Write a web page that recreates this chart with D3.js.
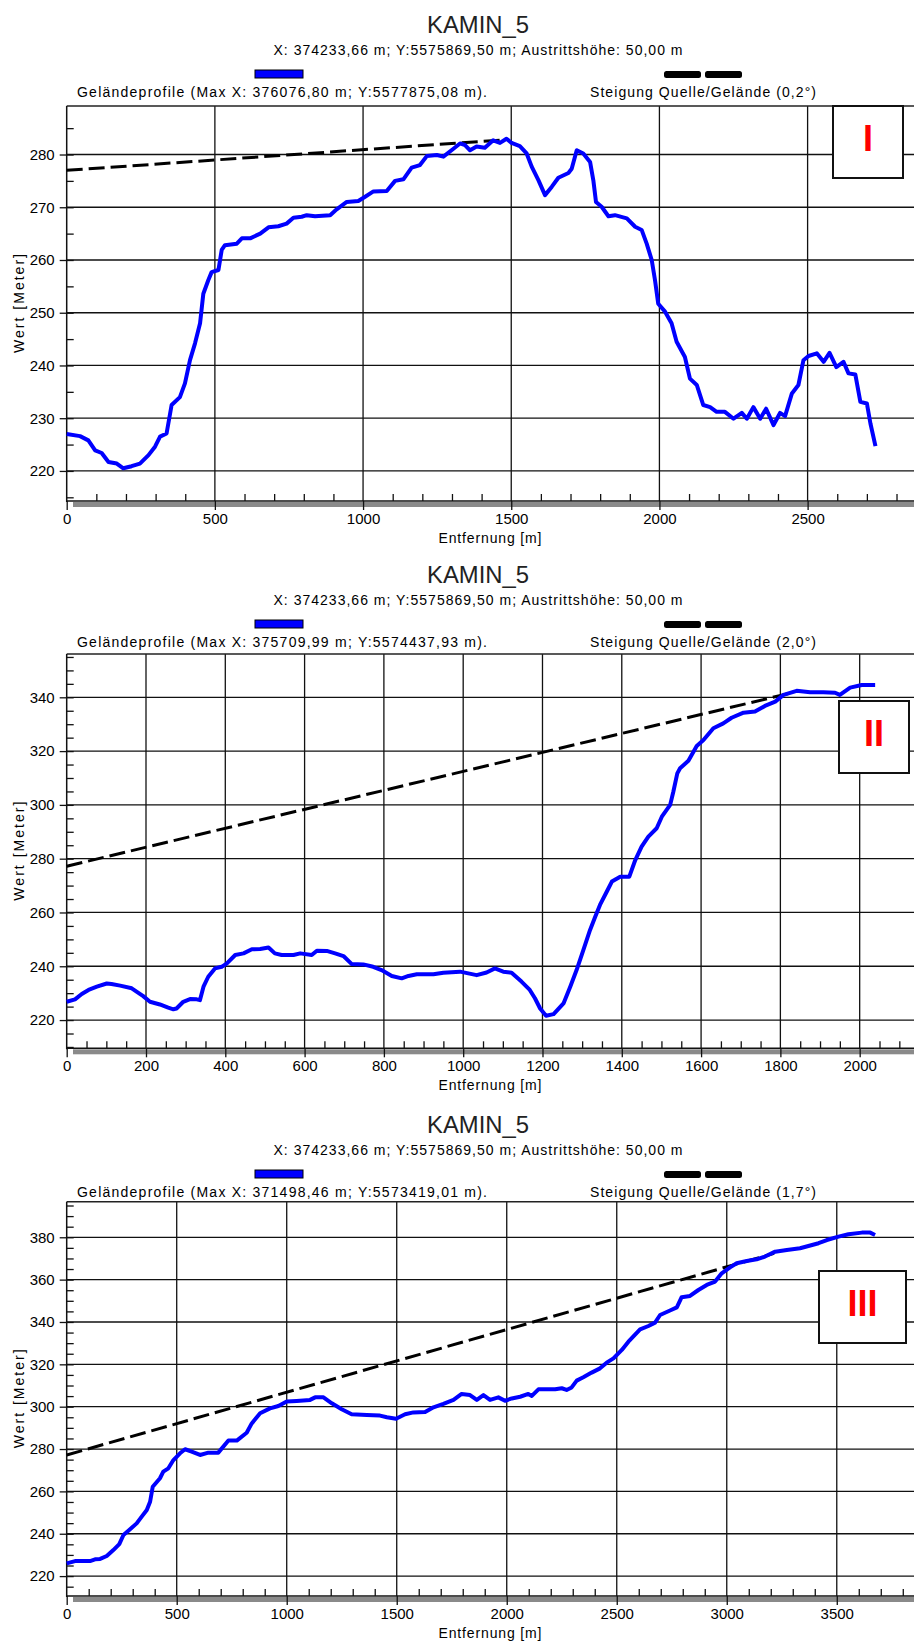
<!DOCTYPE html>
<html>
<head>
<meta charset="utf-8">
<script src="https://cdn.jsdelivr.net/npm/d3@7"></script>
<style>
  body { margin: 0; background: #fff; }
  svg text { font-family: "Liberation Sans", Arial, sans-serif; fill: #000; }
</style>
</head>
<body>
<svg id="chart" width="914" height="1641"></svg>
<script>
// ---- data: [distance m, height m] ----
let profile1 = [[0,227.0],[45,226.6],[73,225.8],[96,223.9],[118,223.4],[141,221.7],[169,221.4],[191,220.5],[219,220.9],[247,221.4],[276,223.0],[298,224.6],[315,226.5],[337,227.1],[354,232.5],[382,234.0],[399,236.6],[416,241.0],[433,244.2],[450,248.0],[461,253.6],[478,256.2],[489,257.7],[512,258.1],[523,261.9],[534,262.8],[574,263.1],[591,264.1],[619,264.1],[653,265.0],[681,266.2],[714,266.4],[742,266.9],[765,268.0],[793,268.2],[810,268.5],[838,268.3],[889,268.5],[911,269.6],[945,271.0],[984,271.2],[1007,272.0],[1035,273.0],[1080,273.1],[1108,275.0],[1136,275.3],[1164,277.5],[1192,278.0],[1215,279.7],[1249,279.9],[1271,279.6],[1305,281.1],[1327,282.1],[1344,281.8],[1361,280.8],[1383,281.5],[1411,281.3],[1439,282.7],[1462,282.2],[1484,283.0],[1501,282.2],[1529,281.6],[1552,280.2],[1569,277.7],[1592,275.1],[1614,272.3],[1637,273.9],[1659,275.6],[1693,276.5],[1704,277.3],[1721,280.8],[1743,280.2],[1766,278.6],[1777,275.1],[1786,271.0],[1805,270.1],[1828,268.3],[1850,268.5],[1890,267.9],[1918,266.3],[1940,265.7],[1957,263.1],[1974,260.0],[1985,256.2],[1996,251.7],[2019,250.2],[2041,248.0],[2058,244.5],[2086,241.6],[2103,237.5],[2126,236.3],[2148,232.5],[2171,232.1],[2193,231.2],[2221,231.2],[2250,229.9],[2278,231.0],[2295,229.9],[2317,232.1],[2340,229.9],[2360,231.8],[2385,228.7],[2407,231.0],[2424,230.4],[2447,234.7],[2469,236.3],[2486,241.0],[2503,241.8],[2531,242.3],[2554,240.7],[2574,242.4],[2597,239.7],[2621,240.7],[2638,238.5],[2661,238.3],[2678,233.1],[2700,232.8],[2712,229.0],[2729,224.7]];

let profile2 = [[0,226.8],[21,227.7],[38,229.7],[55,231.2],[76,232.4],[101,233.6],[113,233.4],[135,232.8],[164,231.8],[177,230.5],[193,228.9],[210,226.8],[235,225.8],[256,224.6],[269,224.0],[277,224.3],[294,226.8],[311,227.8],[328,227.7],[336,227.4],[345,232.4],[357,236.1],[374,239.2],[391,239.8],[404,241.1],[425,244.2],[446,244.8],[467,246.3],[488,246.4],[509,247.0],[525,244.8],[542,244.2],[572,244.2],[589,244.8],[618,244.2],[631,245.8],[656,245.7],[677,244.8],[698,243.8],[719,240.8],[748,240.7],[773,239.8],[794,238.6],[820,236.4],[845,235.5],[862,236.4],[883,237.0],[925,237.0],[950,237.6],[992,238.0],[1034,236.7],[1059,237.7],[1080,239.2],[1101,238.0],[1122,237.6],[1147,234.3],[1168,231.2],[1181,228.1],[1194,224.3],[1209,221.6],[1228,222.2],[1253,226.2],[1270,232.4],[1286,238.6],[1303,246.0],[1320,253.5],[1333,258.4],[1345,262.8],[1362,267.7],[1375,271.5],[1396,273.3],[1419,273.3],[1434,279.5],[1450,284.5],[1467,288.2],[1488,291.3],[1501,295.6],[1522,300.0],[1530,304.9],[1540,311.7],[1547,313.6],[1568,316.4],[1589,321.9],[1606,324.1],[1631,328.5],[1656,330.3],[1677,332.4],[1707,334.3],[1736,334.7],[1761,336.8],[1787,338.4],[1808,340.9],[1841,342.4],[1875,341.9],[1908,341.9],[1938,341.7],[1950,340.9],[1976,343.6],[2005,344.6],[2039,344.6]];

let profile3 = [[0,226.0],[38,227.1],[106,227.1],[129,227.9],[152,228.1],[182,229.5],[212,232.3],[239,235.1],[258,239.4],[288,242.1],[318,244.9],[341,248.1],[364,251.2],[379,255.1],[391,262.2],[424,266.2],[439,269.3],[462,270.9],[485,274.8],[515,278.0],[538,279.9],[568,278.8],[606,277.2],[644,278.3],[689,278.3],[735,284.0],[773,284.0],[818,287.7],[841,292.1],[879,296.9],[924,299.2],[962,300.3],[1000,302.4],[1045,302.7],[1106,303.2],[1129,304.4],[1167,304.4],[1205,301.6],[1250,298.8],[1295,296.4],[1364,296.1],[1424,295.8],[1455,295.0],[1497,294.3],[1538,296.4],[1576,297.3],[1629,297.5],[1667,299.7],[1712,301.3],[1758,303.2],[1795,306.0],[1833,305.5],[1864,303.2],[1894,305.5],[1924,303.2],[1962,304.4],[1992,302.8],[2023,303.9],[2061,304.7],[2098,306.0],[2114,305.1],[2144,308.2],[2220,308.2],[2250,308.7],[2272,307.9],[2295,309.1],[2318,312.3],[2348,313.9],[2386,316.1],[2424,318.1],[2454,320.8],[2485,322.8],[2523,326.8],[2553,330.7],[2606,336.5],[2644,338.1],[2674,339.7],[2697,343.3],[2742,345.4],[2773,346.9],[2795,351.7],[2833,352.3],[2871,355.1],[2909,357.5],[2947,359.1],[2977,363.0],[3015,365.8],[3045,367.7],[3091,368.8],[3136,369.6],[3174,370.9],[3220,373.2],[3273,374.0],[3333,374.8],[3371,375.9],[3417,377.2],[3455,378.7],[3508,380.3],[3553,381.4],[3614,382.2],[3652,382.2],[3674,381.1]];

// slope source/terrain (dashed), start and end point
let slope1 = [[0,277.0],[1480,282.8]];
let slope2 = [[0,277.2],[1835,341.9]];
let slope3 = [[0,277.2],[3215,372.4]];

// axes
let xDomain1 = [0, 2859], yDomain1 = [214.3, 289.2];
let xDomain2 = [0, 2137], yDomain2 = [209.5, 356.1];
let xDomain3 = [0, 3851], yDomain3 = [210.6, 396.8];

let xTicks1 = [0, 500, 1000, 1500, 2000, 2500];
let xTicks2 = [0, 200, 400, 600, 800, 1000, 1200, 1400, 1600, 1800, 2000];
let xTicks3 = [0, 500, 1000, 1500, 2000, 2500, 3000, 3500];
let yTicks1 = [220, 230, 240, 250, 260, 270, 280];
let yTicks2 = [220, 240, 260, 280, 300, 320, 340];
let yTicks3 = [220, 240, 260, 280, 300, 320, 340, 360, 380];

// texts
let chartTitle = "KAMIN_5";
let subTitle = "X: 374233,66 m; Y:5575869,50 m; Austrittshöhe: 50,00 m";
let profileNames = [
    "Geländeprofile (Max X: 376076,80 m; Y:5577875,08 m).",
    "Geländeprofile (Max X: 375709,99 m; Y:5574437,93 m).",
    "Geländeprofile (Max X: 371498,46 m; Y:5573419,01 m)."
];
let slopeNames = [
    "Steigung Quelle/Gelände (0,2°)",
    "Steigung Quelle/Gelände (2,0°)",
    "Steigung Quelle/Gelände (1,7°)"
];
let panelLabels = ["I", "II", "III"];

let svg = d3.select("#chart");
let left = 66.7, right = 914;

let panels = [
    {top: 0, plotTop: 106, plotBottom: 501, profile: profile1, slope: slope1, xDomain: xDomain1, yDomain: yDomain1,
        xTicks: xTicks1, yTicks: yTicks1, xMinor: 100, yMinor: 5, box: [833, 106, 70]},
    {top: 550, plotTop: 654, plotBottom: 1048.3, profile: profile2, slope: slope2, xDomain: xDomain2, yDomain: yDomain2,
        xTicks: xTicks2, yTicks: yTicks2, xMinor: 50, yMinor: 5, box: [839, 701, 70]},
    {top: 1100, plotTop: 1201.7, plotBottom: 1596, profile: profile3, slope: slope3, xDomain: xDomain3, yDomain: yDomain3,
        xTicks: xTicks3, yTicks: yTicks3, xMinor: 100, yMinor: 5, box: [819, 1271, 87]}
];

panels.forEach(function (p, i) {
    let g = svg.append("g");

    let xScale = d3.scaleLinear().domain(p.xDomain).range([left, right]);
    let yScale = d3.scaleLinear().domain(p.yDomain).range([p.plotBottom, p.plotTop]);

    // header
    g.append("text").attr("x", 478).attr("y", p.top + 33)
        .attr("text-anchor", "middle").attr("font-size", 24)
        .attr("textLength", 102).attr("lengthAdjust", "spacingAndGlyphs")
        .style("fill", "#222")
        .text(chartTitle);
    g.append("text").attr("x", 478).attr("y", p.top + 55)
        .attr("text-anchor", "middle").attr("font-size", 14)
        .attr("textLength", 409).attr("lengthAdjust", "spacing")
        .text(subTitle);

    // legend
    g.append("rect").attr("x", 255).attr("y", p.top + 70).attr("width", 48).attr("height", 8)
        .attr("fill", "#0000ff").attr("stroke", "#000").attr("stroke-width", 1);
    g.append("text").attr("x", 282).attr("y", p.top + 97)
        .attr("text-anchor", "middle").attr("font-size", 14)
        .attr("textLength", 410).attr("lengthAdjust", "spacing")
        .text(profileNames[i]);
    [664, 705].forEach(function (bx) {
        g.append("rect").attr("x", bx).attr("y", p.top + 71).attr("width", 37).attr("height", 7)
            .attr("rx", 2.5).attr("fill", "#000");
    });
    g.append("text").attr("x", 703).attr("y", p.top + 97)
        .attr("text-anchor", "middle").attr("font-size", 14)
        .attr("textLength", 226).attr("lengthAdjust", "spacing")
        .text(slopeNames[i]);

    // grid
    g.append("g").selectAll("line").data(p.yTicks).enter().append("line")
        .attr("x1", left).attr("x2", right)
        .attr("y1", d => yScale(d)).attr("y2", d => yScale(d))
        .attr("stroke", "#111").attr("stroke-width", 1.3);
    g.append("g").selectAll("line").data(p.xTicks.slice(1)).enter().append("line")
        .attr("x1", d => xScale(d)).attr("x2", d => xScale(d))
        .attr("y1", p.plotTop).attr("y2", p.plotBottom)
        .attr("stroke", "#111").attr("stroke-width", 1.3);

    // frame top
    g.append("line").attr("x1", left).attr("x2", right).attr("y1", p.plotTop).attr("y2", p.plotTop)
        .attr("stroke", "#222").attr("stroke-width", 1.5);

    // gray band under x axis
    g.append("rect").attr("x", 73).attr("y", p.plotBottom + 1).attr("width", right - 73).attr("height", 5)
        .attr("fill", "#8a8a8a");

    // minor ticks
    let yMinorVals = d3.range(Math.ceil(p.yDomain[0] / p.yMinor) * p.yMinor, p.yDomain[1], p.yMinor);
    let xMinorVals = d3.range(p.xMinor, p.xDomain[1], p.xMinor).filter(v => p.xTicks.indexOf(v) < 0);

    g.append("g").attr("transform", "translate(" + left + ",0)")
        .call(d3.axisRight(yScale).tickValues(yMinorVals).tickSize(7).tickFormat(""))
        .call(a => a.select(".domain").remove());
    g.append("g").attr("transform", "translate(0," + p.plotBottom + ")")
        .call(d3.axisTop(xScale).tickValues(xMinorVals).tickSize(7).tickFormat(""))
        .call(a => a.select(".domain").remove());

    // major axes
    let yAxis = g.append("g").attr("transform", "translate(" + left + ",0)")
        .call(d3.axisLeft(yScale).tickValues(p.yTicks).tickSize(7).tickPadding(5).tickFormat(d3.format("d")));
    yAxis.select(".domain").remove();
    yAxis.selectAll("text").attr("font-size", 15).style("font-family", "Liberation Sans, Arial, sans-serif");

    let xAxis = g.append("g").attr("transform", "translate(0," + p.plotBottom + ")")
        .call(d3.axisBottom(xScale).tickValues(p.xTicks).tickSize(9).tickPadding(3).tickFormat(d3.format("d")));
    xAxis.select(".domain").remove();
    xAxis.selectAll("text").attr("font-size", 15).style("font-family", "Liberation Sans, Arial, sans-serif");
    g.selectAll(".tick line").attr("stroke", "#111").attr("stroke-width", 1.3);

    g.append("line").attr("x1", left).attr("x2", left).attr("y1", p.plotTop).attr("y2", p.plotBottom + 1)
        .attr("stroke", "#111").attr("stroke-width", 1.5);
    g.append("line").attr("x1", left).attr("x2", right).attr("y1", p.plotBottom).attr("y2", p.plotBottom)
        .attr("stroke", "#111").attr("stroke-width", 1.5);

    // axis titles
    g.append("text").attr("x", 490).attr("y", p.plotBottom + 42)
        .attr("text-anchor", "middle").attr("font-size", 14)
        .attr("textLength", 103).attr("lengthAdjust", "spacing")
        .text("Entfernung [m]");
    g.append("text")
        .attr("transform", "translate(24," + ((p.plotTop + p.plotBottom) / 2) + ") rotate(-90)")
        .attr("text-anchor", "middle").attr("font-size", 14)
        .attr("textLength", 99).attr("lengthAdjust", "spacing")
        .text("Wert [Meter]");

    // slope line (dashed)
    let line = d3.line().x(d => xScale(d[0])).y(d => yScale(d[1]));
    g.append("path").datum(p.slope).attr("d", line)
        .attr("fill", "none").attr("stroke", "#000").attr("stroke-width", 3)
        .attr("stroke-dasharray", "16,6");

    // terrain profile
    g.append("path").datum(p.profile).attr("d", line)
        .attr("fill", "none").attr("stroke", "#0000ff").attr("stroke-width", 4)
        .attr("stroke-linejoin", "round");

    // label box
    g.append("rect").attr("x", p.box[0]).attr("y", p.box[1]).attr("width", p.box[2]).attr("height", 72)
        .attr("fill", "#fff").attr("stroke", "#111").attr("stroke-width", 2);
    g.append("text").attr("x", p.box[0] + p.box[2] / 2).attr("y", p.box[1] + 45)
        .attr("text-anchor", "middle").attr("font-size", 36).attr("font-weight", "bold")
        .style("fill", "#ff0000")
        .text(panelLabels[i]);
});
</script>
</body>
</html>
